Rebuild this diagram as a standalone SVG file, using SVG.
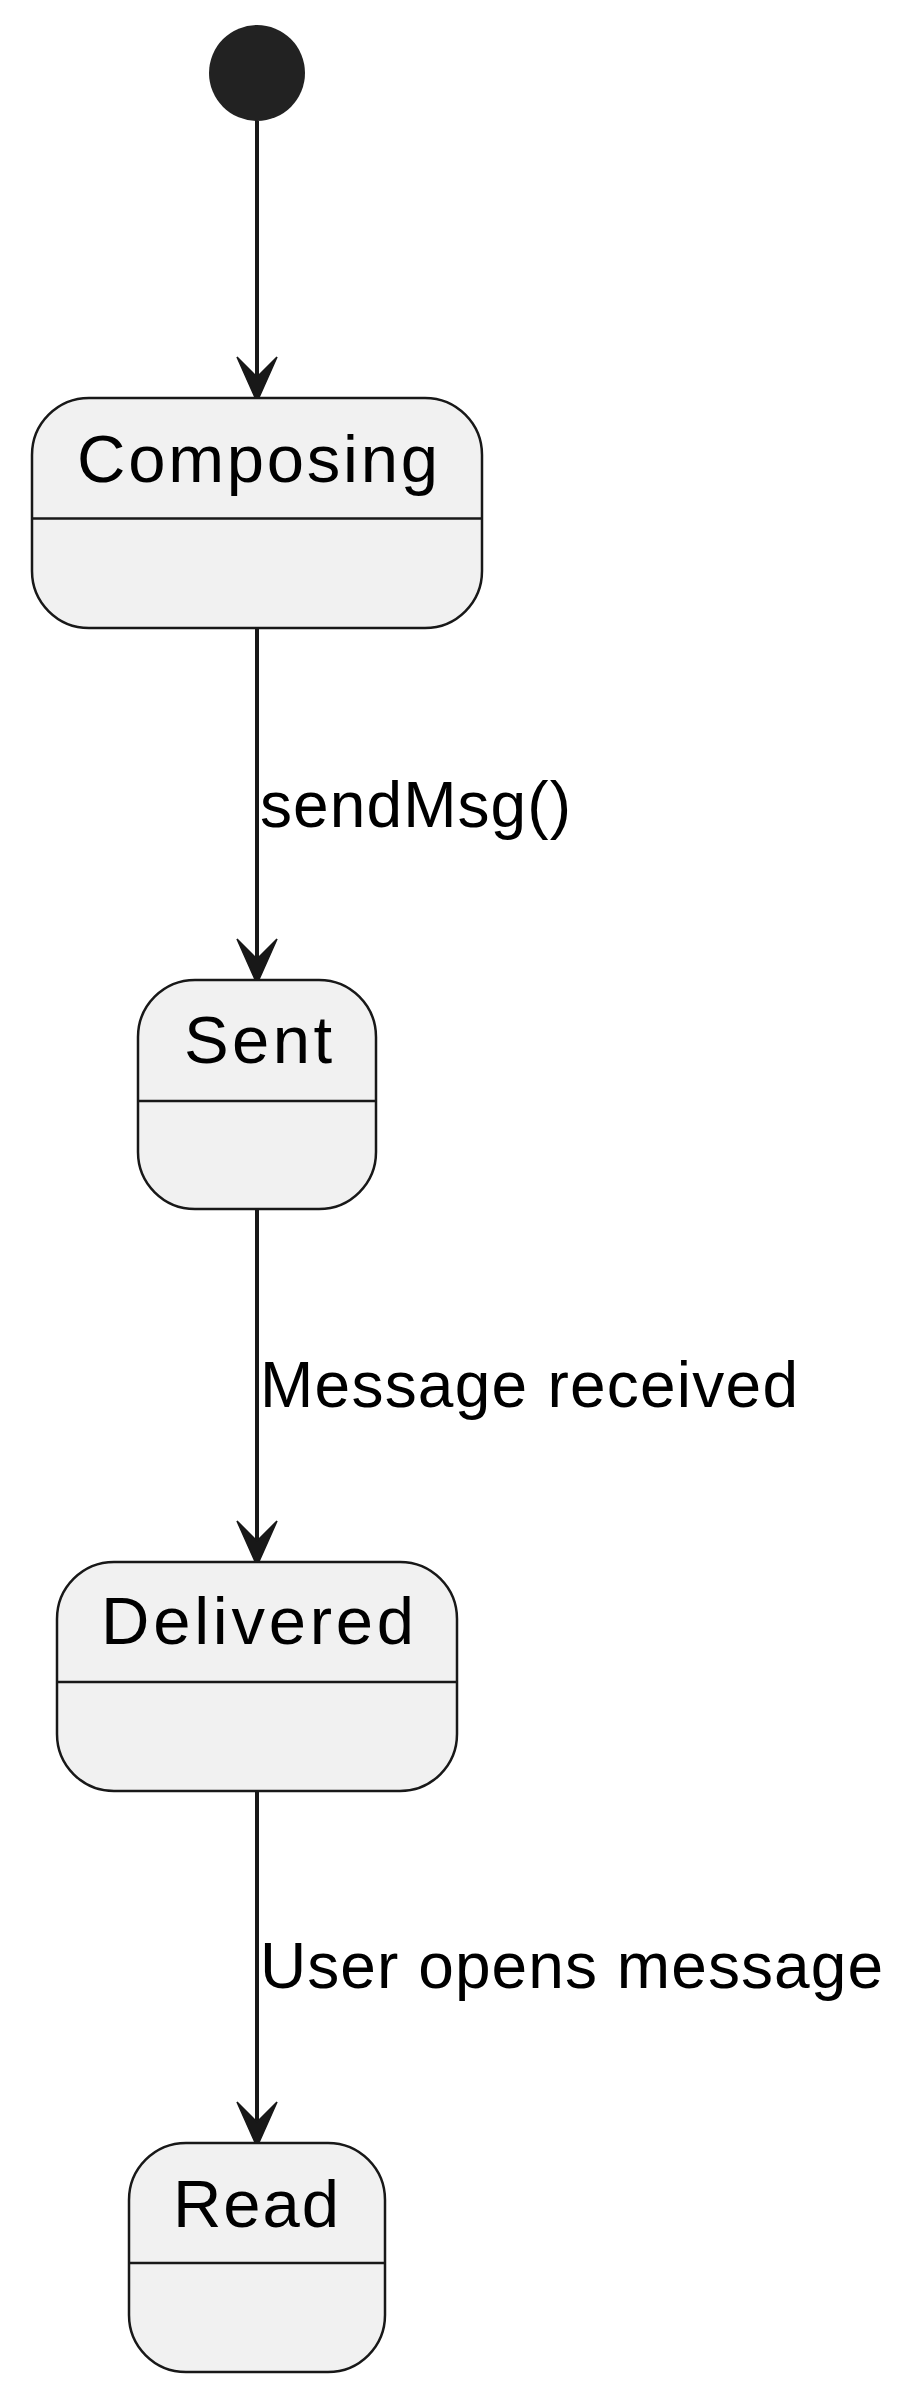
<svg xmlns="http://www.w3.org/2000/svg" width="916" height="2400" viewBox="0 0 916 2400">
<defs>
<style>
.state{fill:#F1F1F1;stroke:#181818;stroke-width:2.5}
.div{stroke:#181818;stroke-width:2.5}
.name{font-family:"Liberation Sans",Arial,sans-serif;font-size:67px;fill:#000000}
.lbl{font-family:"Liberation Sans",Arial,sans-serif;font-size:64px;fill:#000000}
.edge{stroke:#181818;stroke-width:4;fill:none}
</style>
<marker id="arr" markerUnits="userSpaceOnUse" markerWidth="50" markerHeight="44" refX="20" refY="21" orient="auto" overflow="visible">
<polygon points="0,1 45,21 0,41 20,21" fill="#181818" stroke="#181818" stroke-width="1.5" stroke-linejoin="miter"/>
</marker>
</defs>
<rect width="916" height="2400" fill="#FFFFFF"/>
<g id="start">
<circle cx="257" cy="73" r="48" fill="#222222"/>
</g>
<g id="connectors">
<line class="edge" x1="257" y1="121" x2="257" y2="377" marker-end="url(#arr)"/>
<line class="edge" x1="257" y1="629" x2="257" y2="959" marker-end="url(#arr)"/>
<text class="lbl" x="260" y="827" textLength="311" lengthAdjust="spacing">sendMsg()</text>
<line class="edge" x1="257" y1="1210" x2="257" y2="1541" marker-end="url(#arr)"/>
<text class="lbl" x="260" y="1407" textLength="538" lengthAdjust="spacing">Message received</text>
<line class="edge" x1="257" y1="1792" x2="257" y2="2122" marker-end="url(#arr)"/>
<text class="lbl" x="260" y="1988" textLength="623" lengthAdjust="spacing">User opens message</text>
</g>
<g id="Composing">
<rect class="state" x="32" y="398" width="450" height="230" rx="57" ry="57"/>
<line class="div" x1="32" y1="518.5" x2="482" y2="518.5"/>
<text class="name" x="77" y="482" textLength="361" lengthAdjust="spacing">Composing</text>
</g>
<g id="Sent">
<rect class="state" x="138" y="980" width="238" height="229" rx="57" ry="57"/>
<line class="div" x1="138" y1="1101" x2="376" y2="1101"/>
<text class="name" x="184" y="1063" textLength="148" lengthAdjust="spacing">Sent</text>
</g>
<g id="Delivered">
<rect class="state" x="57" y="1562" width="400" height="229" rx="57" ry="57"/>
<line class="div" x1="57" y1="1682" x2="457" y2="1682"/>
<text class="name" x="101" y="1644" textLength="313" lengthAdjust="spacing">Delivered</text>
</g>
<g id="Read">
<rect class="state" x="129" y="2143" width="256" height="229" rx="57" ry="57"/>
<line class="div" x1="129" y1="2263" x2="385" y2="2263"/>
<text class="name" x="173" y="2227" textLength="166" lengthAdjust="spacing">Read</text>
</g>
</svg>
